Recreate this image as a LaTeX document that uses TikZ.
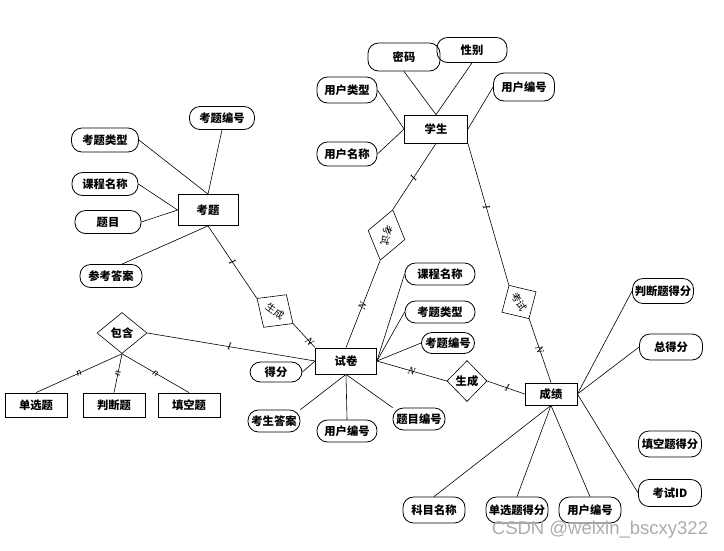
\documentclass[tikz,border=0pt]{standalone}
\usepackage{fontspec}
\setmainfont{Liberation Serif}
\newfontfamily\cjk{Noto Sans CJK SC}
\newfontfamily\wmfont{Liberation Sans}
\usetikzlibrary{shapes.geometric,calc}
\begin{document}
\begin{tikzpicture}[x=1pt,y=-1pt,
  every node/.style={inner sep=0pt},
  txt/.style={font=\cjk\bfseries\fontsize{11.3}{13}\selectfont},
  ent/.style={txt, draw, rectangle, line width=0.8pt},
  attr/.style={txt, draw, rectangle, rounded corners=10.5pt, line width=0.8pt},
  rel/.style={txt, draw, diamond, line width=0.6pt},
  rrel/.style={draw, diamond, line width=0.6pt, font=\cjk\fontsize{10}{12}\selectfont},
  ln/.style={line width=0.6pt},
  card/.style={sloped, inner sep=0pt, font=\itshape\fontsize{10.5}{10.5}\selectfont},
]
\useasboundingbox (0,0) rectangle (724,550);

% ---------- 学生 ----------
\node[ent, minimum width=63, minimum height=28] (xs) at (436,129) {学生};
\node[attr, minimum width=72, minimum height=28] (mm) at (404,57) {密码};
\node[attr, minimum width=70, minimum height=25] (xb) at (472,50) {性别};
\node[attr, minimum width=60, minimum height=26] (yhlx) at (347,90) {用户类型};
\node[attr, minimum width=61, minimum height=28] (yhbh1) at (524,87) {用户编号};
\node[attr, minimum width=60, minimum height=24] (yhmc) at (347,154) {用户名称};

% ---------- 考题 ----------
\node[ent, minimum width=60, minimum height=31] (kt) at (208,210) {考题};
\node[attr, minimum width=65, minimum height=23] (ktbh) at (222,118) {考题编号};
\node[attr, minimum width=67, minimum height=24] (ktlx) at (105,140) {考题类型};
\node[attr, minimum width=66, minimum height=23] (kcmc) at (105,184) {课程名称};
\node[attr, minimum width=66, minimum height=23] (tm) at (108,222) {题目};
\node[attr, minimum width=62, minimum height=23] (ckda) at (111,276) {参考答案};
\coordinate (ckdaTop) at ($(ckda.north)+(11,0)$);

% ---------- relationships ----------
\node[rrel, rotate=-35, minimum width=44, minimum height=40] (scL) at (275,311) {生成};
\node[rrel, rotate=-104, minimum width=52, minimum height=38] (ksU) at (386.5,235) {考试};
\node[rrel, rotate=-59, minimum width=39, minimum height=40] (ksR) at (519,302) {考试};
\node[rel, minimum width=40, minimum height=41] (scR) at (467,381) {生成};
\node[rel, minimum width=50, minimum height=41] (bh) at (122,333) {包含};

% ---------- 试卷 ----------
\node[ent, minimum width=61, minimum height=26] (sj) at (346,361) {试卷};
\node[attr, minimum width=70, minimum height=22] (kcmc2) at (440,274) {课程名称};
\node[attr, minimum width=70, minimum height=22] (ktlx2) at (440,312) {考题类型};
\node[attr, minimum width=53, minimum height=21] (ktbh2) at (448,343) {考题编号};
\node[attr, minimum width=52, minimum height=20] (df) at (276,372) {得分};
\node[attr, minimum width=52, minimum height=22] (ksda) at (274,421) {考生答案};
\node[attr, minimum width=60, minimum height=22] (yhbh2) at (347,431) {用户编号};
\node[attr, minimum width=52, minimum height=22] (tmbh) at (419,419) {题目编号};

% ---------- 成绩 ----------
\node[ent, minimum width=52, minimum height=22] (cj) at (551,394) {成绩};
\node[attr, minimum width=61, minimum height=25] (pdtdf) at (663,291) {判断题得分};
\node[attr, minimum width=63, minimum height=26] (zdf) at (671,347) {总得分};
\node[attr, minimum width=63, minimum height=26] (tktdf) at (670,444) {填空题得分};
\node[attr, minimum width=63, minimum height=27] (ksid) at (670,493) {考试ID};
\node[attr, minimum width=62, minimum height=26] (kmmc) at (434,510) {科目名称};
\node[attr, minimum width=62, minimum height=26] (dxtdf) at (517,510) {单选题得分};
\node[attr, minimum width=62, minimum height=26] (yhbh3) at (590,510) {用户编号};

% ---------- 题型 ----------
\node[ent, minimum width=62, minimum height=24] (dxt) at (36,405) {单选题};
\node[ent, minimum width=62, minimum height=24] (pdt) at (114,405) {判断题};
\node[ent, minimum width=62, minimum height=24] (tkt) at (189,405) {填空题};

% ---------- connectors ----------
\draw[ln] (mm.south) -- (xs.north);
\draw[ln] (xb.south) -- (xs.north);
\draw[ln] (yhlx.east) -- (xs.west);
\draw[ln] (yhmc.east) -- (xs.west);
\draw[ln] (yhbh1.west) -- (xs.east);

\draw[ln] (ktbh.south) -- (kt.north);
\draw[ln] (ktlx.east) -- (kt.north);
\draw[ln] (kcmc.east) -- (kt.west);
\draw[ln] (tm.east) -- (kt.west);
\draw[ln] (ckdaTop) -- (kt.south);

\draw[ln] (kt.south) -- node[card, pos=0.5] {I} (scL.west);
\draw[ln] (scL.east) -- node[card, pos=0.75] {N} (sj.north west);
\draw[ln] (xs.south) -- node[card, pos=0.52] {I} (ksU.west);
\draw[ln] (ksU.east) -- node[card, pos=0.52] {N} (sj.north);
\draw[ln] (xs.south east) -- node[card, pos=0.45] {I} (ksR.west);
\draw[ln] (ksR.east) -- node[card, pos=0.49] {N} (cj.north);
\draw[ln] (sj.east) -- node[card, pos=0.5] {N} (scR.west);
\draw[ln] (scR.east) -- node[card, pos=0.53] {I} (cj.west);
\draw[ln] (bh.east) -- node[card, pos=0.49] {I} (sj.west);
\draw[ln] (bh.south) -- node[card, pos=0.5] {n} (dxt.north);
\draw[ln] (bh.south) -- node[card, pos=0.5] {n} (pdt.north);
\draw[ln] (bh.south) -- node[card, pos=0.5] {n} (tkt.north);

\draw[ln] (kcmc2.west) -- (sj.east);
\draw[ln] (ktlx2.west) -- (sj.east);
\draw[ln] (ktbh2.west) -- (sj.east);
\draw[ln] (df.east) -- (sj.west);
\draw[ln] (ksda.north east) -- (sj.south);
\draw[ln] (yhbh2.north) -- (sj.south);
\draw[ln] (tmbh.north west) -- (sj.south);

\draw[ln] (pdtdf.west) -- (cj.east);
\draw[ln] (zdf.west) -- (cj.east);
\draw[ln] (ksid.west) -- (cj.east);
\draw[ln] (kmmc.north) -- (cj.south);
\draw[ln] (dxtdf.north) -- (cj.south);
\draw[ln] (yhbh3.north) -- (cj.south);

% watermark
\node[font=\wmfont\fontsize{18.5}{18.5}\selectfont, text=gray!65] (wm) at (600,530) {CSDN @weixin\_bscxy322};
\end{tikzpicture}
\end{document}
